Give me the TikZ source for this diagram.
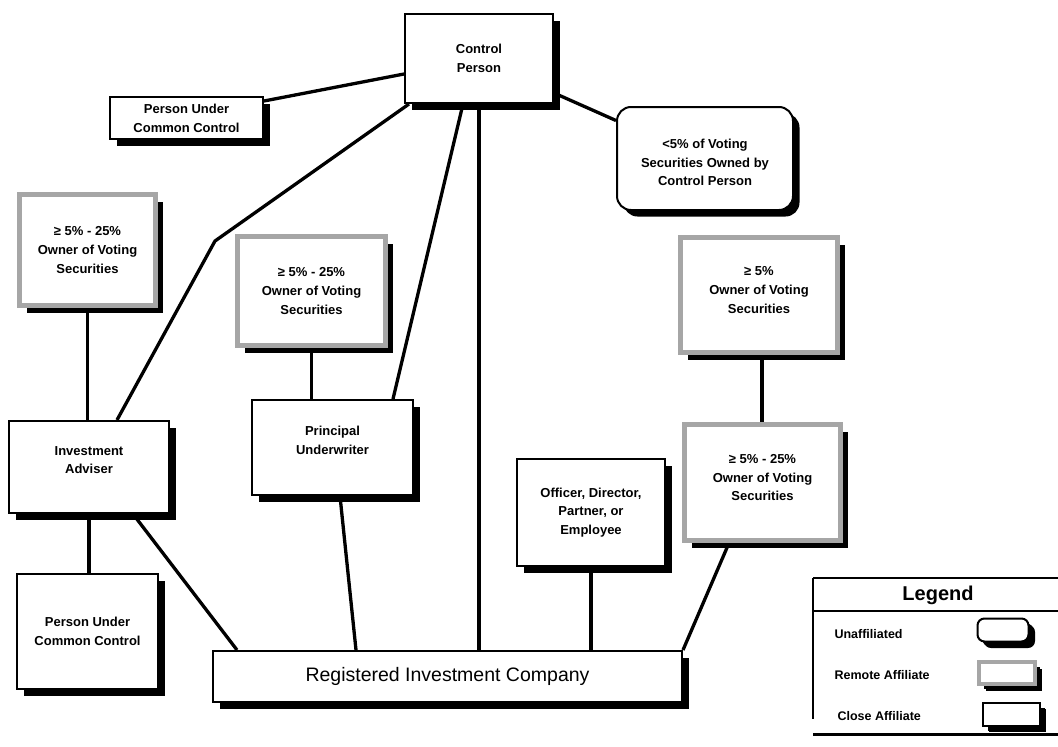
\documentclass[tikz,border=0pt]{standalone}
\usepackage{fontspec}
\setmainfont{Liberation Sans}
\usetikzlibrary{shadows,calc}
\pgfdeclarelayer{bg}
\pgfsetlayers{bg,main}
\begin{document}
\begin{tikzpicture}[x=1pt,y=-1pt,
  base/.style={fill=white, inner sep=2pt, align=center, font=\fontsize{13}{18.8}\selectfont\bfseries},
  closebox/.style={base, draw=black, line width=2pt, drop shadow={shadow xshift=6.5pt, shadow yshift=-6.5pt, fill=black, opacity=1}},
  unaff/.style={closebox, rounded corners=14pt},
  remote/.style={base, draw=gray!70, line width=5pt, drop shadow={shadow xshift=7pt, shadow yshift=-7pt, fill=black, opacity=1}},
  conn/.style={line width=3.3pt, black},
  legtext/.style={anchor=west, font=\fontsize{12.5}{15}\selectfont\bfseries},
  box/.style 2 args={minimum width=#1pt, minimum height=#2pt}]
\useasboundingbox (0,0) rectangle (1058,747);

% nodes
\node[closebox, box={148}{89}] (cp) at (479,58.5) {Control\\Person};
\node[closebox, box={153}{42}] (pucc1) at (186.5,118) {Person Under\\Common Control};
\node[unaff, box={176}{103}, text height=55pt] (lt5) at (705,158.5) {<5\% of Voting\\Securities Owned by\\Control Person};
\node[remote, box={136}{111}] (rs1) at (87.5,250) {≥ 5\% - 25\%\\Owner of Voting\\Securities};
\node[remote, box={148}{109}] (rs2) at (311.5,291) {≥ 5\% - 25\%\\Owner of Voting\\Securities};
\node[remote, box={157}{115}, text depth=10pt] (rs3) at (759,295) {≥ 5\%\\Owner of Voting\\Securities};
\node[remote, box={156}{116}, text depth=10pt] (rs4) at (762.5,482.5) {≥ 5\% - 25\%\\Owner of Voting\\Securities};
\node[closebox, box={160}{92}, text depth=14pt] (ia) at (89,467) {Investment\\Adviser};
\node[closebox, box={161}{95}, text depth=14pt] (pu) at (332.5,447.5) {Principal\\Underwriter};
\node[closebox, box={148}{107}] (off) at (591,512.5) {Officer, Director,\\Partner, or\\Employee};
\node[closebox, box={141}{115}] (pucc2) at (87.5,631.5) {Person Under\\Common Control};
\node[closebox, box={469}{51}, font=\fontsize{19.5}{22}\selectfont] (ric) at (447.5,676.5) {Registered Investment Company};

% connectors
\coordinate (bend) at (215,241);
\begin{pgfonlayer}{bg}
\draw[conn] ([yshift=-15.5pt]cp.west) -- ([yshift=17pt]pucc1.east);
\draw[conn] ([yshift=-34.5pt]cp.east) -- ([yshift=38pt]lt5.west);
\draw[conn] ([xshift=5pt]cp.south west) -- (bend) -- ([xshift=28pt]ia.north);
\draw[conn] ([xshift=-16pt]cp.south) -- ([xshift=60.5pt]pu.north);
\draw[conn] (cp.south) -- (cp.south |- ric.north);
\draw[conn] (rs1.south) -- (rs1.south |- ia.north);
\draw[conn] (ia.south) -- (ia.south |- pucc2.north);
\draw[conn] ([xshift=-37pt]ia.south east) -- ([xshift=25pt]ric.north west);
\draw[conn] (rs2.south) -- (rs2.south |- pu.north);
\draw[conn] ([xshift=7.5pt]pu.south) -- ([xshift=144pt]ric.north west);
\draw[conn] ([xshift=3pt]rs3.south) -- ([xshift=3pt]rs3.south |- rs4.north);
\draw[conn] (off.south) -- (off.south |- ric.north);
\draw[conn] ([xshift=-33.5pt]rs4.south) -- (ric.north east);
\end{pgfonlayer}

% legend
\draw[line width=1.5pt] (813,578) -- (1058,578);
\draw[line width=1.2pt] (813,578) -- (813,719);
\draw[line width=2.5pt] (813,611) -- (1058,611);
\draw[line width=3pt] (813,734) -- (1058,734);
\node[font=\fontsize{20}{24}\selectfont\bfseries] (legt) at (938,595) {Legend};
\node[legtext] (l1) at (831,634) {Unaffiliated};
\node[legtext] (l2) at (831,675) {Remote Affiliate};
\node[legtext] (l3) at (834,716) {Close Affiliate};
\node[unaff, rounded corners=7pt, box={51}{23}, drop shadow={shadow xshift=5pt, shadow yshift=-5pt, fill=black, opacity=1}] (s1) at (1003,630) {};
\node[remote, line width=4pt, box={56}{22}, drop shadow={shadow xshift=5pt, shadow yshift=-5pt, fill=black, opacity=1}] (s2) at (1007,673) {};
\node[closebox, box={57}{23}, drop shadow={shadow xshift=5pt, shadow yshift=-5pt, fill=black, opacity=1}] (s3) at (1011,714) {};
\end{tikzpicture}
\end{document}
